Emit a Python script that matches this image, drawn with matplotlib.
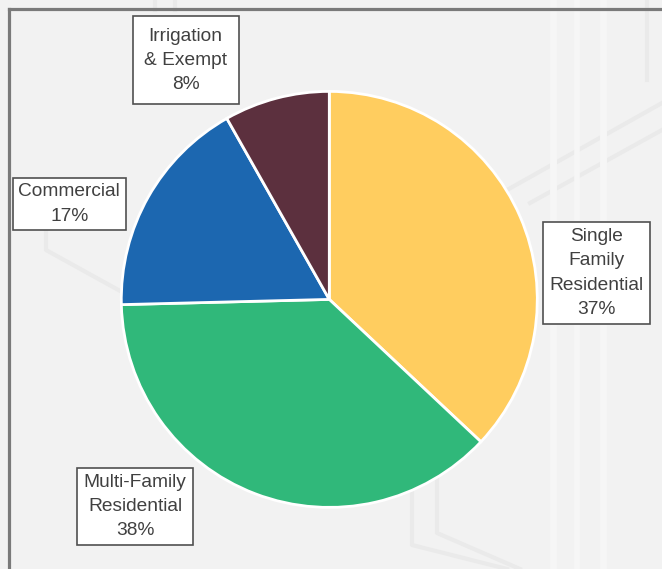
import matplotlib
matplotlib.use("Agg")
import matplotlib.pyplot as plt
from matplotlib.lines import Line2D

# ---- data ----
categories = ["Single Family\nResidential", "Multi-Family\nResidential", "Commercial", "Irrigation\n& Exempt"]
shares = [37.0, 37.6, 17.2, 8.2]
pct_labels = ["37%", "38%", "17%", "8%"]

# ---- style / layout ----
colors = ["#FFCD5F", "#30B87A", "#1C67B0", "#5C303E"]
label_pos = [(1.285, 0.127), (-0.934, -0.996), (-1.250, 0.459), (-0.691, 1.150)]
label_pad = [0.34, 0.32, 0.3, 0.6]
label_text = ["Single\nFamily\nResidential\n37%", "Multi-Family\nResidential\n38%",
              "Commercial\n17%", "Irrigation\n& Exempt\n8%"]

W, H = 662, 569
fig = plt.figure(figsize=(W / 100, H / 100), dpi=100)
fig.patch.set_facecolor("#F2F2F2")

# faint decorative background lines (figure pixel coords, y from top)
def bgline(xs, ys, color="#EAEAEA", lw=3.0):
    fig.add_artist(Line2D([x / W for x in xs], [1 - y / H for y in ys],
                          transform=fig.transFigure, color=color, lw=lw, zorder=0))

bgline([647, 647], [0, 80])
bgline([507, 662], [190, 103])
bgline([530, 662], [203, 130])
bgline([412, 412, 507], [450, 545, 569])
bgline([437, 437, 520], [450, 533, 569])
bgline([46, 46, 122], [180, 250, 292])
bgline([553, 553], [0, 569], color="#F6F6F6", lw=5)
bgline([577, 577], [0, 569], color="#F6F6F6", lw=4)
bgline([603, 603], [0, 569], color="#F6F6F6", lw=5)
bgline([155, 155], [0, 10])
bgline([175, 175], [0, 10])

ax = fig.add_axes([0, 0, 1, 1])
ax.set_facecolor("none")
R = 208.0
cx, cy = 329.3, 299.4

wedges, _ = ax.pie(shares, colors=colors, startangle=90, counterclock=False,
                   radius=1.0, center=(0, 0),
                   wedgeprops=dict(edgecolor="white", linewidth=2.0))
ax.set_xlim(-cx / R, (W - cx) / R)
ax.set_ylim(-(H - cy) / R, cy / R)
ax.set_aspect("auto")
ax.axis("off")

for (x, y), t, p in zip(label_pos, label_text, label_pad):
    ax.text(x, y, t, ha="center", va="center", multialignment="center",
            fontsize=13.8, family="Liberation Sans", color="#404040",
            linespacing=1.55, zorder=5,
            bbox=dict(boxstyle=f"square,pad={p}", facecolor="white",
                      edgecolor="#505050", linewidth=1.2))

# frame
fig.add_artist(Line2D([9 / W, 9 / W], [1 - 9 / H, 0], transform=fig.transFigure,
                      color="#7A7A7A", lw=2.3, zorder=10))
fig.add_artist(Line2D([9 / W, 1], [1 - 9 / H, 1 - 9 / H], transform=fig.transFigure,
                      color="#7A7A7A", lw=2.3, zorder=10))

fig.savefig("out.png", dpi=100, facecolor=fig.get_facecolor())
